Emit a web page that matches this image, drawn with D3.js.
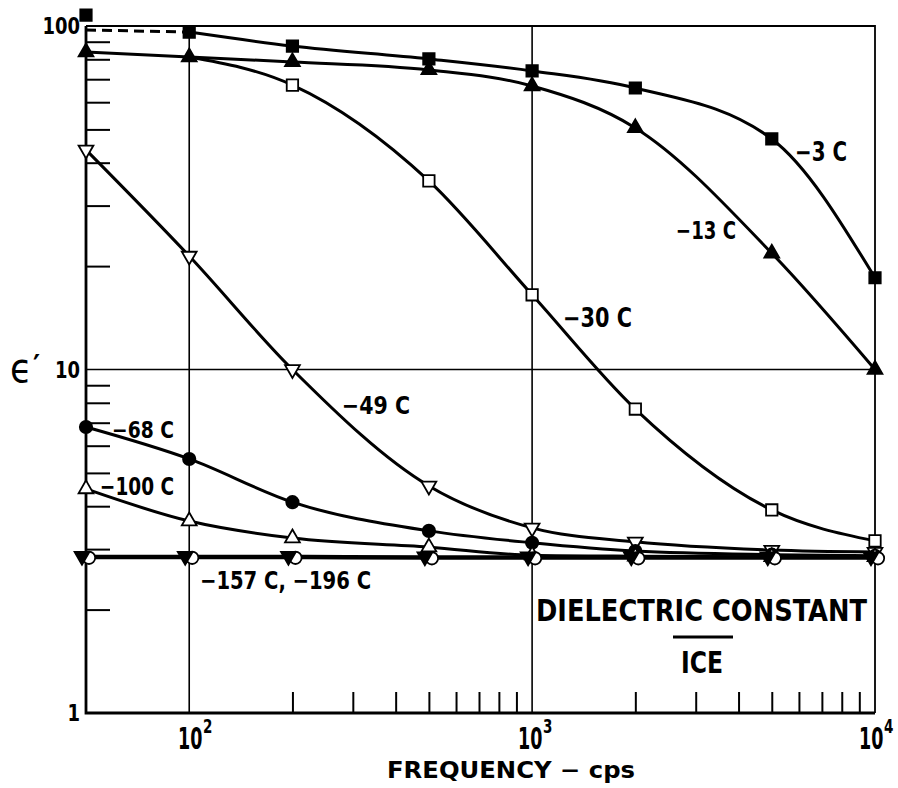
<!DOCTYPE html>
<html>
<head>
<meta charset="utf-8">
<script src="https://cdn.jsdelivr.net/npm/d3@7/dist/d3.min.js"></script>
<style>
  body { margin: 0; background: #fff; }
  text { font-family: "DejaVu Sans Condensed", "DejaVu Sans", sans-serif; fill: #000; }
</style>
</head>
<body>
<div id="chart"></div>
<script>
// frequencies (cps) the readings were taken at
const freqs = [50, 100, 200, 500, 1000, 2000, 5000, 10000];
const freqs30 = [100, 200, 500, 1000, 2000, 5000, 10000];

// dielectric constant e'
const eps3   = [107.6, 96.0, 87.4, 80.2, 74.0, 66.0, 46.9, 18.5];
const eps13  = [84.0, 81.2, 78.6, 74.5, 66.9, 50.5, 21.8, 10.0];
const eps30  = [81.2, 67.3, 35.4, 16.5, 7.67, 3.90, 3.17];
const eps49  = [43.6, 21.4, 10.0, 4.58, 3.46, 3.15, 2.98, 2.94];
const eps68  = [6.80, 5.49, 4.11, 3.39, 3.13, 2.96, 2.89, 2.87];
const eps100 = [4.49, 3.62, 3.23, 3.04, 2.88, 2.86, 2.85, 2.85];
const eps157 = [2.86, 2.86, 2.86, 2.85, 2.85, 2.85, 2.85, 2.85];
const eps196 = [2.83, 2.83, 2.83, 2.82, 2.82, 2.82, 2.82, 2.82];

// dashed extrapolation of the -3 C curve
const dashFreq = [50, 100];
const dashEps = [97.4, 96.0];

// tick values / labels
const yMinor = [2, 3, 4, 5, 6, 7, 8, 9, 20, 30, 40, 50, 60, 70, 80, 90];
const xMinor = [200, 300, 400, 500, 600, 700, 800, 900, 2000, 3000, 4000, 5000, 6000, 7000, 8000, 9000];
const yLabels = [{v: 100, t: '100'}, {v: 10, t: '10'}, {v: 1, t: '1'}];
const xLabels = [{v: 100, e: '2'}, {v: 1000, e: '3'}, {v: 10000, e: '4'}];

const series = [
  {f: freqs,   e: eps3,   shape: 'square',   filled: true,  lineFrom: 1},
  {f: freqs,   e: eps13,  shape: 'triangle', filled: true},
  {f: freqs30, e: eps30,  shape: 'square',   filled: false, markFrom: 1},
  {f: freqs,   e: eps49,  shape: 'down',     filled: false},
  {f: freqs,   e: eps68,  shape: 'circle',   filled: true},
  {f: freqs,   e: eps100, shape: 'triangle', filled: false},
  {f: freqs,   e: eps196, shape: 'circle',   filled: false, dx: 3},
  {f: freqs,   e: eps157, shape: 'down',     filled: true,  dx: -4}
];

const W = 898, H = 788;
const plotL = 86, plotR = 875, plotT = 26, plotB = 713;

const svg = d3.select('#chart').append('svg').attr('width', W).attr('height', H);

const x = d3.scaleLog().domain([50, 10000]).range([plotL, plotR]);
const y = d3.scaleLog().domain([1, 100]).range([plotB, plotT]);

// grid lines
const grid = svg.append('g').attr('stroke', '#000').attr('stroke-width', 1.6);
[100, 1000].forEach(v => {
  grid.append('line').attr('x1', x(v)).attr('x2', x(v)).attr('y1', plotT).attr('y2', plotB);
});
grid.append('line').attr('x1', plotL).attr('x2', plotR).attr('y1', y(10)).attr('y2', y(10));

// frame: thin top/right, heavy left/bottom
svg.append('path')
  .attr('d', `M${plotL},${plotT}H${plotR}V${plotB}`)
  .attr('fill', 'none').attr('stroke', '#000').attr('stroke-width', 1.8);
svg.append('path')
  .attr('d', `M${plotL},${plotT}V${plotB}H${plotR}`)
  .attr('fill', 'none').attr('stroke', '#000').attr('stroke-width', 2.8);

// minor ticks pointing inward
const yAxis = svg.append('g').attr('transform', `translate(${plotL},0)`)
  .call(d3.axisLeft(y).tickValues(yMinor).tickSize(-24).tickFormat(''));
const xAxis = svg.append('g').attr('transform', `translate(0,${plotB})`)
  .call(d3.axisBottom(x).tickValues(xMinor).tickSize(-21).tickFormat(''));
[yAxis, xAxis].forEach(a => {
  a.select('.domain').remove();
  a.selectAll('line').attr('stroke', '#000').attr('stroke-width', 2);
});

// tick labels
yLabels.forEach(d => {
  svg.append('text').attr('x', 80).attr('y', y(d.v) + 8)
    .attr('text-anchor', 'end').attr('font-size', 23).attr('font-weight', 'bold')
    .attr('textLength', d.t.length * 12.5).attr('lengthAdjust', 'spacingAndGlyphs')
    .text(d.t);
});
// powers of ten under the x axis, squeezed narrow like the original lettering
const xStart = [178, 518, 859];
xLabels.forEach((d, i) => {
  svg.append('text')
    .attr('transform', `translate(${xStart[i]},749) scale(0.65,1)`)
    .attr('font-size', 30).attr('font-weight', 'bold')
    .text('10');
  svg.append('text')
    .attr('transform', `translate(${xStart[i] + 25},733) scale(0.75,1)`)
    .attr('font-size', 20).attr('font-weight', 'bold')
    .text(d.e);
});

// curves
const line = d3.line()
  .x(d => x(d[0]))
  .y(d => y(d[1]))
  .curve(d3.curveMonotoneX);

series.forEach(s => {
  const pts = s.f.map((f, i) => [f, s.e[i]]).slice(s.lineFrom || 0);
  svg.append('path').attr('d', line(pts))
    .attr('fill', 'none').attr('stroke', '#000').attr('stroke-width', 3);
});

svg.append('path')
  .attr('d', line(dashFreq.map((f, i) => [f, dashEps[i]])))
  .attr('fill', 'none').attr('stroke', '#000').attr('stroke-width', 3)
  .attr('stroke-dasharray', '10,6');

// markers
const symbols = {
  square: d3.symbol().type(d3.symbolSquare).size(130),
  triangle: d3.symbol().type(d3.symbolTriangle).size(95),
  down: d3.symbol().type(d3.symbolTriangle).size(95),
  circle: d3.symbol().type(d3.symbolCircle).size(120)
};

series.forEach(s => {
  const pts = s.f.map((f, i) => [f, s.e[i]]).slice(s.markFrom || 0);
  svg.append('g').selectAll('path').data(pts).enter().append('path')
    .attr('d', symbols[s.shape]())
    .attr('transform', d => `translate(${x(d[0]) + (s.dx || 0)},${y(d[1])})` + (s.shape === 'down' ? ' rotate(180)' : ''))
    .attr('fill', s.filled ? '#000' : '#fff')
    .attr('stroke', '#000').attr('stroke-width', 1.8);
});

// curve labels
const notes = [
  {t: '−3 C', x: 795, y: 161, w: 52, fs: 26},
  {t: '−13 C', x: 676, y: 239, w: 60, fs: 25},
  {t: '−30 C', x: 563, y: 327, w: 69, fs: 26},
  {t: '−49 C', x: 342, y: 414, w: 68, fs: 25},
  {t: '−68 C', x: 112, y: 438, w: 62, fs: 23},
  {t: '−100 C', x: 100, y: 495, w: 74, fs: 25},
  {t: '−157 C, −196 C', x: 200, y: 589, w: 171, fs: 24},
  {t: 'DIELECTRIC CONSTANT', x: 536, y: 621, w: 331, fs: 30},
  {t: 'ICE', x: 681, y: 673, w: 42, fs: 30},
  {t: 'FREQUENCY  −  cps', x: 387, y: 778, w: 248, fs: 23}
];
notes.forEach(n => {
  svg.append('text').attr('x', n.x).attr('y', n.y)
    .attr('font-size', n.fs)
    .attr('font-weight', 'bold')
    .attr('textLength', n.w).attr('lengthAdjust', 'spacingAndGlyphs')
    .text(n.t);
});

// bar between the two title lines
svg.append('line').attr('x1', 673).attr('x2', 733).attr('y1', 637).attr('y2', 637)
  .attr('stroke', '#000').attr('stroke-width', 3);

// y axis title
svg.append('text').attr('x', 10).attr('y', 382).attr('font-size', 40).text('ϵ');
svg.append('text').attr('x', 33).attr('y', 376).attr('font-size', 30).attr('font-weight', 'bold').text('′');
</script>
</body>
</html>
